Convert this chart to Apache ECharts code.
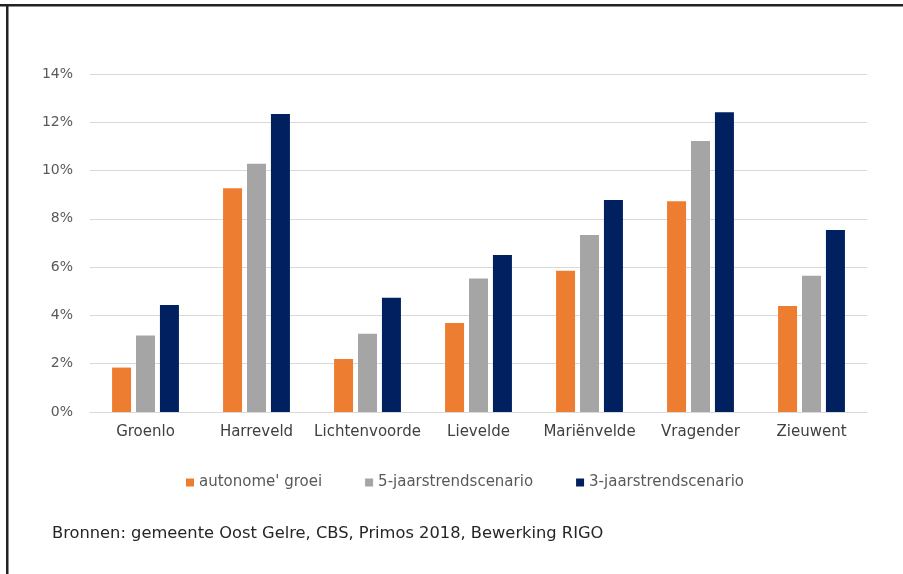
<!DOCTYPE html>
<html>
<head>
<meta charset="utf-8">
<script src="https://cdn.jsdelivr.net/npm/echarts@6/dist/echarts.min.js"></script>
<style>html,body{margin:0;padding:0;background:#fff}#c{width:903px;height:574px}</style>
</head>
<body>
<div id="c"></div>
<script>
const categories = ['Groenlo','Harreveld','Lichtenvoorde','Lievelde','Mariënvelde','Vragender','Zieuwent'];
const seriesNames = ["autonome' groei", '5-jaarstrendscenario', '3-jaarstrendscenario'];
const autonoom = [1.84, 9.27, 2.2, 3.69, 5.85, 8.73, 4.39];
const vijfjaar = [3.17, 10.28, 3.24, 5.53, 7.33, 11.22, 5.64];
const driejaar = [4.43, 12.34, 4.73, 6.5, 8.78, 12.42, 7.54];
const yTicks = [0, 2, 4, 6, 8, 10, 12, 14];
const sourceText = 'Bronnen: gemeente Oost Gelre, CBS, Primos 2018, Bewerking RIGO';

const colors = ['#ED7D31', '#A5A5A5', '#002060'];
const font = '"DejaVu Sans", "Liberation Sans", sans-serif';
const chart = echarts.init(document.getElementById('c'), null, {renderer: 'canvas'});
const data = [autonoom, vijfjaar, driejaar];
chart.setOption({
  animation: false,
  backgroundColor: '#ffffff',
  grid: {left: 90, right: 36, top: 74, bottom: 162, containLabel: false},
  legend: {
    data: seriesNames,
    left: 181, top: 470,
    icon: 'rect', itemWidth: 8, itemHeight: 8, itemGap: 43,
    textStyle: {color: '#595959', fontSize: 15, fontFamily: font}
  },
  xAxis: {
    type: 'category', data: categories,
    axisLine: {show: true, lineStyle: {color: '#d9d9d9', width: 1}},
    axisTick: {show: false},
    axisLabel: {color: '#404040', fontSize: 15, fontFamily: font, margin: 13, interval: 0}
  },
  yAxis: {
    type: 'value', min: yTicks[0], max: yTicks[yTicks.length - 1], interval: 2,
    axisLine: {show: false}, axisTick: {show: false},
    splitLine: {lineStyle: {color: '#d9d9d9', width: 1}},
    axisLabel: {color: '#595959', fontSize: 14, fontFamily: font, margin: 17, formatter: v => v + '%'}
  },
  series: seriesNames.map((n, i) => ({
    name: n, type: 'bar', data: data[i],
    barWidth: 19, barGap: '26%', barCategoryGap: '40%',
    itemStyle: {color: colors[i]}
  })),
  graphic: [
    {type: 'rect', shape: {x: 0, y: 4, width: 903, height: 2.5}, style: {fill: '#222'}},
    {type: 'rect', shape: {x: 6, y: 4, width: 2.5, height: 570}, style: {fill: '#222'}},
    {type: 'text', left: 52, top: 526, style: {text: sourceText, fill: '#262626', font: '16.3px ' + font}}
  ]
});
</script>
</body>
</html>
